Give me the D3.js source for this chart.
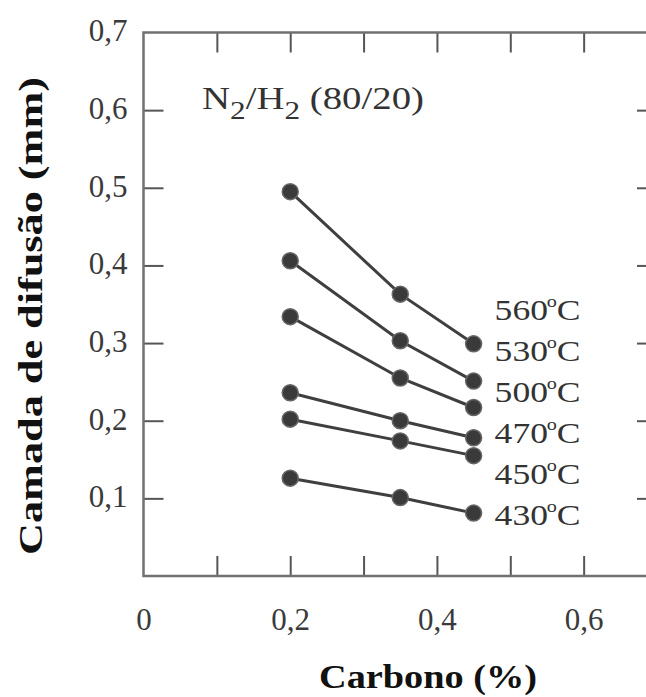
<!DOCTYPE html>
<html><head><meta charset="utf-8">
<script src="https://cdn.jsdelivr.net/npm/d3@7"></script>
<style>
html,body{margin:0;padding:0;background:#fff;}
svg{display:block;}
</style></head>
<body>
<svg id="chart" width="646" height="697"></svg>
<script>
// ---- data ----
const carbon = [0.2, 0.35, 0.45];
const temperatures = ["560", "530", "500", "470", "450", "430"];
const layer560 = [0.495, 0.363, 0.299];
const layer530 = [0.406, 0.303, 0.251];
const layer500 = [0.334, 0.255, 0.217];
const layer470 = [0.236, 0.200, 0.178];
const layer450 = [0.202, 0.174, 0.155];
const layer430 = [0.126, 0.101, 0.081];
const xTickValues = [0.1, 0.2, 0.3, 0.4, 0.5, 0.6];
const xLabelValues = [0, 0.2, 0.4, 0.6];
const yTickValues = [0.1, 0.2, 0.3, 0.4, 0.5, 0.6];
const yLabelValues = [0.1, 0.2, 0.3, 0.4, 0.5, 0.6, 0.7];
const seriesValues = [layer560, layer530, layer500, layer470, layer450, layer430];

(function () {
const svg = d3.select("#chart");
const mL = 143.5, mR = 657, mT = 32.5, mB = 576;
const x = d3.scaleLinear().domain([0, 0.7]).range([mL, mR]);
const y = d3.scaleLinear().domain([0, 0.7]).range([mB, mT]);
const fmt = v => v === 0 ? "0" : d3.format(".1f")(v).replace(".", ",");
const serif = "'Liberation Serif','Times New Roman',serif";
const tickLen = 20;

function styleTicks(g) {
  g.select(".domain").remove();
  g.selectAll(".tick line").attr("stroke", "#555").attr("stroke-width", 2);
}
svg.append("g").attr("transform", `translate(0,${mB})`)
  .call(d3.axisBottom(x).tickValues(xTickValues).tickSize(-tickLen).tickFormat(""))
  .call(styleTicks);
svg.append("g").attr("transform", `translate(0,${mT})`)
  .call(d3.axisTop(x).tickValues(xTickValues).tickSize(-tickLen).tickFormat(""))
  .call(styleTicks);
svg.append("g").attr("transform", `translate(${mL},0)`)
  .call(d3.axisLeft(y).tickValues(yTickValues).tickSize(-tickLen).tickFormat(""))
  .call(styleTicks);
svg.append("g").attr("transform", `translate(${mR},0)`)
  .call(d3.axisRight(y).tickValues(yTickValues).tickSize(-tickLen).tickFormat(""))
  .call(styleTicks);

// frame
svg.append("rect").attr("x", mL).attr("y", mT)
  .attr("width", mR - mL).attr("height", mB - mT)
  .attr("fill", "none").attr("stroke", "#707070").attr("stroke-width", 2.5);

// tick labels
const xl = svg.append("g").attr("transform", `translate(0,${mB})`)
  .call(d3.axisBottom(x).tickValues(xLabelValues).tickSize(0).tickPadding(0).tickFormat(fmt));
xl.select(".domain").remove();
xl.selectAll("text").attr("font-family", serif).attr("font-size", 31)
  .attr("fill", "#3a3a3a").attr("dy", null).attr("y", 54);

const yl = svg.append("g").attr("transform", `translate(${mL},0)`)
  .call(d3.axisLeft(y).tickValues(yLabelValues).tickSize(0).tickPadding(16).tickFormat(fmt));
yl.select(".domain").remove();
yl.selectAll("text").attr("font-family", serif).attr("font-size", 31)
  .attr("fill", "#3a3a3a").attr("dy", "0.27em");

// lines and markers
const line = d3.line().x((d, i) => x(carbon[i])).y(d => y(d));
const plot = svg.append("g");
seriesValues.forEach(vals => {
  plot.append("path").datum(vals).attr("d", line)
    .attr("fill", "none").attr("stroke", "#3f3f3f").attr("stroke-width", 3);
});
seriesValues.forEach(vals => {
  plot.selectAll(null).data(vals).enter().append("circle")
    .attr("cx", (d, i) => x(carbon[i])).attr("cy", d => y(d)).attr("r", 8)
    .attr("fill", "#3a3a3a").attr("stroke", "#666").attr("stroke-width", 1.5);
});

// temperature labels
const labelTop = 320, labelGap = 41;
temperatures.forEach((t, i) => {
  const tx = svg.append("text").attr("x", x(carbon[2]) + 21).attr("y", labelTop + i * labelGap)
    .attr("font-family", serif).attr("font-size", 30).attr("fill", "#333")
    .attr("textLength", 86).attr("lengthAdjust", "spacingAndGlyphs");
  tx.append("tspan").text(t);
  tx.append("tspan").attr("font-size", 17).attr("dy", -13).attr("dx", -1).text("o");
  tx.append("tspan").attr("dy", 13).text("C");
});

// title N2/H2 (80/20)
const title = svg.append("text").attr("x", 202).attr("y", 109)
  .attr("font-family", serif).attr("font-size", 31).attr("fill", "#333")
  .attr("textLength", 222).attr("lengthAdjust", "spacingAndGlyphs");
title.append("tspan").text("N");
title.append("tspan").attr("font-size", 25).attr("dy", 10).text("2");
title.append("tspan").attr("dy", -10).text("/H");
title.append("tspan").attr("font-size", 25).attr("dy", 10).text("2");
title.append("tspan").attr("dy", -10).text(" (80/20)");

// axis titles
svg.append("text").attr("x", 428).attr("y", 688).attr("text-anchor", "middle")
  .attr("font-family", serif).attr("font-weight", "bold").attr("font-size", 33)
  .attr("fill", "#111").attr("textLength", 218).attr("lengthAdjust", "spacingAndGlyphs")
  .text("Carbono (%)");
svg.append("text").attr("transform", "translate(42,316) rotate(-90)")
  .attr("text-anchor", "middle")
  .attr("font-family", serif).attr("font-weight", "bold").attr("font-size", 33)
  .attr("fill", "#111").attr("textLength", 478).attr("lengthAdjust", "spacingAndGlyphs")
  .text("Camada de difusão (mm)");
})();
</script>
</body></html>
